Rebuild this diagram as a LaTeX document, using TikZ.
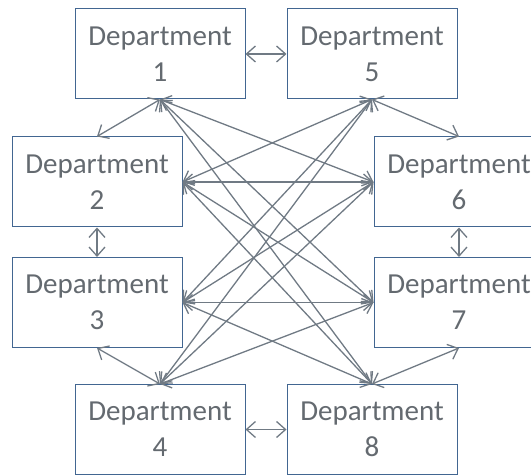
\documentclass[tikz,border=0pt]{standalone}
\usepackage{fontspec}
\setmainfont{Carlito}
\usetikzlibrary{arrows.meta}
\definecolor{boxc}{RGB}{66,102,145}
\definecolor{txtc}{RGB}{100,106,112}
\definecolor{arrc}{RGB}{112,122,132}
\tikzset{
  dept/.style={draw=boxc, line width=1pt, fill=white, minimum width=170pt, minimum height=90pt,
    align=center, text=txtc, font=\fontsize{29}{36}\selectfont, inner sep=0pt},
  link/.style={draw=arrc, line width=1.3pt, {Straight Barb[length=9pt,width=16pt]}-{Straight Barb[length=9pt,width=16pt]}}
}
\begin{document}
\begin{tikzpicture}[x=1pt,y=-1pt]
\useasboundingbox (0,0) rectangle (531,476);
\clip (0,0) rectangle (531,476);
\node[dept] (n1) at (160,54) {Department\\1};
\node[dept] (n2) at (97,182) {Department\\2};
\node[dept] (n3) at (97,302.5) {Department\\3};
\node[dept] (n4) at (160,429.5) {Department\\4};
\node[dept] (n5) at (372,54) {Department\\5};
\node[dept] (n6) at (459,182) {Department\\6};
\node[dept] (n7) at (459,302.5) {Department\\7};
\node[dept] (n8) at (372,429.5) {Department\\8};
% chain edges
\draw[link] (n1.east) -- (n5.west);
\draw[link] (n4.east) -- (n8.west);
\draw[link] (n1.south) -- (n2.north);
\draw[link] (n2.south) -- (n3.north);
\draw[link] (n3.south) -- (n4.north);
\draw[link] (n5.south) -- (n6.north);
\draw[link] (n6.south) -- (n7.north);
\draw[link] (n7.south) -- (n8.north);
% cross edges
\draw[link] (n1.south) -- (n6.west);
\draw[link] (n1.south) -- (n7.west);
\draw[link] (n1.south) -- (n8.north);
\draw[link] (n2.east) -- (n5.south);
\draw[link] (n2.east) -- (n6.west);
\draw[link] (n2.east) -- (n7.west);
\draw[link] (n2.east) -- (n8.north);
\draw[link] (n3.east) -- (n5.south);
\draw[link] (n3.east) -- (n6.west);
\draw[link] (n3.east) -- (n7.west);
\draw[link] (n3.east) -- (n8.north);
\draw[link] (n4.north) -- (n5.south);
\draw[link] (n4.north) -- (n6.west);
\draw[link] (n4.north) -- (n7.west);
\end{tikzpicture}
\end{document}
